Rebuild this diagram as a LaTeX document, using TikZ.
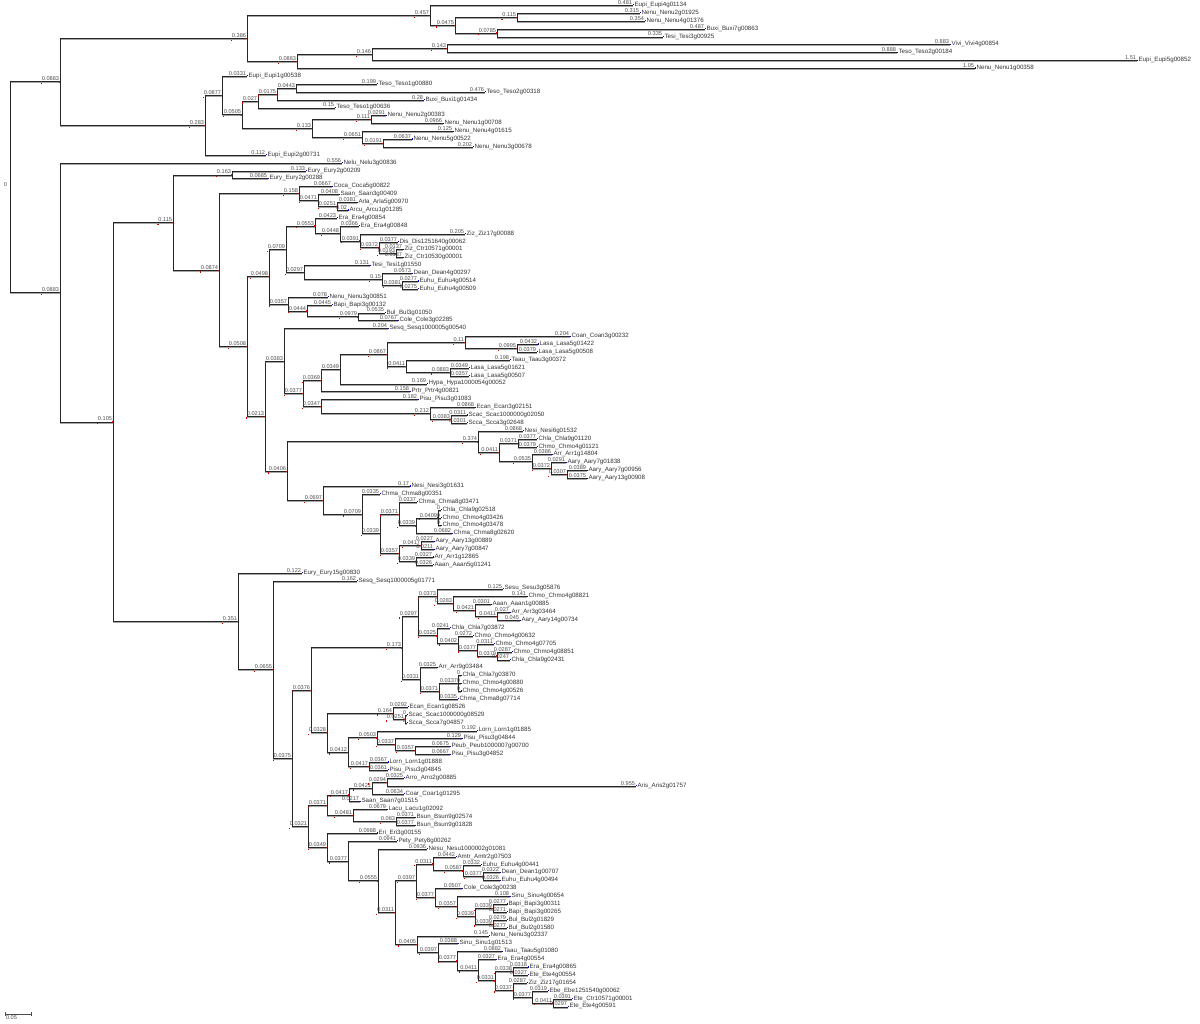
\documentclass[tikz,border=0pt]{standalone}
\usepackage{fontspec}
\setmainfont{Liberation Sans}
\usetikzlibrary{positioning}

\tikzset{
  branch/.style={draw=black!85, line width=0.5pt,
    preaction={draw=black!35, line width=0.5pt, transform canvas={yshift=-0.5pt}}},
  blen/.style={anchor=south east, inner sep=0.3pt, text=black!70, font=\fontsize{2.8}{3}\selectfont},
  genename/.style={anchor=west, inner sep=0.6pt, yshift=0.3pt, text=black!80, font=\fontsize{3.1}{3.5}\selectfont},
  nodemark/.style={fill=red!85!black},
  tipmark/.style={fill=blue!80!black},
}
% inner node: name, parent, x, y (leaf rows), branch length
\newcommand{\clade}[5]{%
  \coordinate (#1) at (#3,#4);
  \draw[branch] (#2) |- (#1);
  \node[blen] (#1l) at (#1) {#5};
  \fill[nodemark] ([yshift=-0.6pt]#1l.south west) rectangle ++(0.6pt,-0.6pt);
  \fill[nodemark] (#1) ++(-0.3pt,-0.3pt) rectangle ++(0.6pt,0.6pt);
}
% leaf: name, parent, x, row, gene, branch length
\newcommand{\gene}[6]{%
  \coordinate (#1) at (#3,#4);
  \draw[branch] (#2) |- (#1);
  \node[blen] (#1l) at (#1) {#6};
  \node[genename] (#1n) at (#1) {#5};
  \fill[tipmark] ([xshift=-0.2pt]#1) rectangle ++(0.9pt,0.55pt);
}

\begin{document}
\begin{tikzpicture}[x=0.5pt,y=-3.943pt]
\useasboundingbox (0,0.3026) rectangle (1200,130.15);
\coordinate (R) at (10,24.06);
\node[blen] (Rl) at ([xshift=-1pt]R) {0};

% upper clade
\clade{T}{R}{60}{10.70}{0.0883}
\clade{T1}{T}{247}{5.1875}{0.386}
\clade{T1a}{T1}{430}{2.25}{0.457}
\gene{g1}{T1a}{633}{1}{Eupi\_Eupi4g01134}{0.481}
\clade{T1b}{T1a}{455}{3.5}{0.0475}
\clade{T1c}{T1b}{517}{2.5}{0.115}
\gene{g2}{T1c}{640}{2}{Nenu\_Nenu2g01925}{0.315}
\gene{g3}{T1c}{645}{3}{Nenu\_Nenu4g01376}{0.354}
\clade{T1d}{T1b}{497}{4.5}{0.0785}
\gene{g4}{T1d}{705}{4}{Buxi\_Buxi7g00863}{0.487}
\gene{g5}{T1d}{663}{5}{Tesi\_Tesi3g00925}{0.335}
\clade{A}{T1}{297}{8.125}{0.0883}
\clade{B}{A}{372}{7.25}{0.146}
\clade{C}{B}{447}{6.5}{0.143}
\gene{g6}{C}{950}{6}{Vivi\_Vivi4g00854}{0.883}
\gene{g7}{C}{897}{7}{Teso\_Teso2g00184}{0.888}
\gene{g8}{B}{1137}{8}{Eupi\_Eupi5g00852}{1.51}
\gene{g9}{A}{975}{9}{Nenu\_Nenu1g00358}{1.05}
\clade{T2}{T}{205}{16.22}{0.283}
\clade{T2a}{T2}{222}{12.4375}{0.0877}
\gene{g10}{T2a}{247}{10}{Eupi\_Eupi1g00538}{0.0331}
\clade{T2b}{T2a}{242}{14.875}{0.0505}
\clade{T2c}{T2b}{258}{13.125}{0.027}
\clade{T2e}{T2c}{277}{12.25}{0.0175}
\clade{T2f}{T2e}{296}{11.5}{0.0443}
\gene{g11}{T2f}{377}{11}{Teso\_Teso1g00880}{0.199}
\gene{g12}{T2f}{485}{12}{Teso\_Teso2g00318}{0.476}
\gene{g13}{T2e}{424}{13}{Buxi\_Buxi1g01434}{0.28}
\gene{g14}{T2c}{335}{14}{Teso\_Teso1g00636}{0.15}
\clade{T2d}{T2b}{312}{16.625}{0.133}
\clade{T2g}{T2d}{371}{15.5}{0.111}
\gene{g15}{T2g}{386}{15}{Nenu\_Nenu2g00383}{0.0291}
\gene{g16}{T2g}{443}{16}{Nenu\_Nenu1g00708}{0.0966}
\clade{T2h}{T2d}{362}{17.75}{0.0651}
\gene{g17}{T2h}{453}{17}{Nenu\_Nenu4g01615}{0.125}
\clade{T2i}{T2h}{383}{18.5}{0.0191}
\gene{g18}{T2i}{412}{18}{Nenu\_Nenu5g00522}{0.0637}
\gene{g19}{T2i}{473}{19}{Nenu\_Nenu3g00678}{0.202}
\gene{g20}{T2}{266}{20}{Eupi\_Eupi2g00731}{0.112}

% lower clade
\clade{L60}{R}{60}{37.41}{0.0883}
\gene{g21}{L60}{342}{21}{Nelu\_Nelu3g00836}{0.556}
\clade{L113}{L60}{113}{53.82}{0.105}
\clade{L173}{L113}{173}{28.53}{0.115}
\clade{L232}{L173}{232}{22.5}{0.163}
\gene{g22}{L232}{306}{22}{Eury\_Eury2g00209}{0.133}
\gene{g23}{L232}{268}{23}{Eury\_Eury2g00288}{0.0685}
\clade{L219}{L173}{219}{34.56}{0.0874}
\clade{L299}{L219}{299}{24.875}{0.158}
\gene{g24}{L299}{332}{24}{Coca\_Coca5g00822}{0.0667}
\clade{L318}{L299}{318}{25.75}{0.0471}
\gene{g25}{L318}{339}{25}{Saan\_Saan3g00409}{0.0408}
\clade{L337}{L318}{337}{26.5}{0.0251}
\gene{g26}{L337}{357}{26}{Arla\_Arla5g00970}{0.0381}
\gene{g27}{L337}{348}{27}{Arcu\_Arcu1g01285}{0.02}
\clade{D}{L219}{247}{44.24}{0.0508}
\clade{L269}{D}{269}{35.40}{0.0498}
\clade{L286}{L269}{286}{31.92}{0.0709}
\clade{L315}{L286}{315}{28.97}{0.0553}
\gene{g28}{L315}{337}{28}{Era\_Era4g00854}{0.0423}
\clade{L340}{L315}{340}{29.94}{0.0448}
\gene{g29}{L340}{359}{29}{Era\_Era4g00848}{0.0366}
\clade{L360}{L340}{360}{30.875}{0.0391}
\gene{g30}{L360}{465}{30}{Ziz\_Ziz17g00088}{0.205}
\clade{L379}{L360}{379}{31.75}{0.0372}
\gene{g31}{L379}{398}{31}{Dis\_Dis1251640g00062}{0.0377}
\clade{L396}{L379}{396}{32.5}{0.0193}
\gene{g32}{L396}{403}{32}{Ziz\_Ctr10571g00001}{0.0137}
\gene{g33}{L396}{403}{33}{Ziz\_Ctr10530g00001}{0.0137}
\clade{L304}{L286}{304}{34.875}{0.0297}
\gene{g34}{L304}{370}{34}{Tesi\_Tesi1g01550}{0.131}
\clade{L382}{L304}{382}{35.75}{0.15}
\gene{g35}{L382}{412}{35}{Dean\_Dean4g00297}{0.0573}
\clade{L402}{L382}{402}{36.5}{0.0381}
\gene{g36}{L402}{418}{36}{Euhu\_Euhu4g00514}{0.0277}
\gene{g37}{L402}{418}{37}{Euhu\_Euhu4g00509}{0.0275}
\clade{L288}{L269}{288}{38.875}{0.0357}
\gene{g38}{L288}{328}{38}{Nenu\_Nenu3g00851}{0.078}
\clade{L307}{L288}{307}{39.75}{0.0444}
\gene{g39}{L307}{332}{39}{Bapi\_Bapi3g00132}{0.0445}
\clade{L358}{L307}{358}{40.5}{0.0979}
\gene{g40}{L358}{385}{40}{Bul\_Bul3g01050}{0.0535}
\gene{g41}{L358}{398}{41}{Cole\_Cole3g02285}{0.0767}
\clade{L265}{D}{265}{53.08}{0.0213}
\clade{L284}{L265}{284}{46.11}{0.0383}
\gene{g42}{L284}{388}{42}{Sesq\_Sesq1000005g00540}{0.204}
\clade{L303}{L284}{303}{50.22}{0.0377}
\clade{L321a}{L303}{321}{48.56}{0.0369}
\clade{L340b}{L321a}{340}{47.125}{0.0349}
\clade{L387}{L340b}{387}{45.25}{0.0867}
\clade{L465}{L387}{465}{43.75}{0.11}
\gene{g43}{L465}{570}{43}{Coan\_Coan3g00232}{0.204}
\clade{L517}{L465}{517}{44.5}{0.0995}
\gene{g44}{L517}{538}{44}{Lasa\_Lasa5g01422}{0.0432}
\gene{g45}{L517}{537}{45}{Lasa\_Lasa5g00508}{0.0379}
\clade{L406}{L387}{406}{46.75}{0.0411}
\gene{g46}{L406}{510}{46}{Taau\_Taau3g00372}{0.198}
\clade{L450}{L406}{450}{47.5}{0.0883}
\gene{g47}{L450}{469}{47}{Lasa\_Lasa5g01621}{0.0349}
\gene{g48}{L450}{469}{48}{Lasa\_Lasa5g00507}{0.0357}
\gene{g49}{L340b}{427}{49}{Hypa\_Hypa1000054g00052}{0.169}
\gene{g50}{L321a}{410}{50}{Prtr\_Prtr4g00821}{0.158}
\clade{L321b}{L303}{321}{51.875}{0.0347}
\gene{g51}{L321b}{418}{51}{Pisu\_Pisu3g01083}{0.182}
\clade{L430}{L321b}{430}{52.75}{0.212}
\gene{g52}{L430}{475}{52}{Ecan\_Ecan3g02151}{0.0868}
\clade{L451}{L430}{451}{53.5}{0.0383}
\gene{g53}{L451}{467}{53}{Scac\_Scac1000000g02050}{0.0311}
\gene{g54}{L451}{467}{54}{Scca\_Scca3g02648}{0.0301}
\clade{L287}{L265}{287}{60.05}{0.0406}
\clade{L478}{L287}{478}{56.34}{0.374}
\gene{g55}{L478}{523}{55}{Nesi\_Nesi6g01532}{0.0868}
\clade{L499}{L478}{499}{57.69}{0.0411}
\clade{L518}{L499}{518}{56.5}{0.0371}
\gene{g56}{L518}{537}{56}{Chla\_Chla9g01120}{0.0377}
\gene{g57}{L518}{537}{57}{Chmo\_Chmo4g01121}{0.0379}
\clade{L532}{L499}{532}{58.875}{0.0535}
\gene{g58}{L532}{552}{58}{Arr\_Arr1g14804}{0.0386}
\clade{L551}{L532}{551}{59.75}{0.0372}
\gene{g59}{L551}{566}{59}{Aary\_Aary7g01838}{0.0291}
\clade{L567}{L551}{567}{60.5}{0.0307}
\gene{g60}{L567}{587}{60}{Aary\_Aary7g00956}{0.0389}
\gene{g61}{L567}{587}{61}{Aary\_Aary13g00908}{0.0375}
\clade{L323}{L287}{323}{63.75}{0.0697}
\gene{g62}{L323}{410}{62}{Nesi\_Nesi3g01631}{0.17}
\clade{L362}{L323}{362}{65.5}{0.0709}
\gene{g63}{L362}{380}{63}{Chma\_Chma8g00351}{0.0335}
\clade{L380}{L362}{380}{68}{0.0339}
\clade{L399}{L380}{399}{65.5}{0.0371}
\gene{g64}{L399}{417}{64}{Chma\_Chma8g03471}{0.0337}
\clade{L416}{L399}{416}{67}{0.0339}
\clade{L438}{L416}{438}{66}{0.0409}
\gene{g65}{L438}{441}{65}{Chla\_Chla9g02518}{0}
\gene{g66}{L438}{441}{66}{Chmo\_Chmo4g03426}{0}
\gene{g67}{L438}{441}{67}{Chmo\_Chmo4g03478}{0}
\gene{g68}{L416}{452}{68}{Chma\_Chma8g02620}{0.0682}
\clade{L399b}{L380}{399}{70.5}{0.0357}
\clade{L421}{L399b}{421}{69.5}{0.0417}
\gene{g69}{L421}{434}{69}{Aary\_Aary13g00889}{0.0227}
\gene{g70}{L421}{434}{70}{Aary\_Aary7g00847}{0.0211}
\clade{L416b}{L399b}{416}{71.5}{0.0339}
\gene{g71}{L416b}{433}{71}{Arr\_Arr1g12865}{0.0327}
\gene{g72}{L416b}{433}{72}{Aaan\_Aaan5g01241}{0.0326}

\clade{M238}{L113}{238}{79.12}{0.351}
\gene{g73}{M238}{302}{73}{Eury\_Eury15g00830}{0.122}
\clade{M273}{M238}{273}{85.24}{0.0655}
\gene{g74}{M273}{357}{74}{Sesq\_Sesq1000005g01771}{0.162}
\clade{M292}{M273}{292}{96.47}{0.0375}
\clade{M311}{M292}{311}{87.84}{0.0376}
\clade{M402}{M311}{402}{82.47}{0.173}
\clade{M418}{M402}{418}{78.44}{0.0297}
\clade{M437}{M418}{437}{75.94}{0.0373}
\gene{g75}{M437}{503}{75}{Sesu\_Sesu3g05876}{0.125}
\clade{M453}{M437}{453}{76.875}{0.0283}
\gene{g76}{M453}{527}{76}{Chmo\_Chmo4g08821}{0.141}
\clade{M475}{M453}{475}{77.75}{0.0421}
\gene{g77}{M475}{491}{77}{Aaan\_Aaan1g00885}{0.0301}
\clade{M497}{M475}{497}{78.5}{0.0411}
\gene{g78}{M497}{510}{78}{Arr\_Arr3g03464}{0.027}
\gene{g79}{M497}{520}{79}{Aary\_Aary14g00734}{0.045}
\clade{M437b}{M418}{437}{80.94}{0.0325}
\gene{g80}{M437b}{450}{80}{Chla\_Chla7g03872}{0.0241}
\clade{M458}{M437b}{458}{81.875}{0.0402}
\gene{g81}{M458}{473}{81}{Chmo\_Chmo4g00632}{0.0272}
\clade{M477}{M458}{477}{82.75}{0.0377}
\gene{g82}{M477}{494}{82}{Chmo\_Chmo4g07705}{0.0311}
\clade{M497b}{M477}{497}{83.5}{0.0379}
\gene{g83}{M497b}{512}{83}{Chmo\_Chmo4g08851}{0.0287}
\gene{g84}{M497b}{510}{84}{Chla\_Chla9g02431}{0.0247}
\clade{M420}{M402}{420}{86.5}{0.0331}
\gene{g85}{M420}{437}{85}{Arr\_Arr9g03484}{0.0325}
\clade{M439}{M420}{439}{88}{0.0371}
\clade{M458b}{M439}{458}{87}{0.0337}
\gene{g86}{M458b}{461}{86}{Chla\_Chla7g03870}{0}
\gene{g87}{M458b}{461}{87}{Chmo\_Chmo4g00880}{0}
\gene{g88}{M458b}{461}{88}{Chmo\_Chmo4g00526}{0}
\gene{g89}{M439}{458}{89}{Chma\_Chma8g07714}{0.0335}
\clade{M327}{M311}{327}{93.22}{0.0328}
\clade{M393}{M327}{393}{90.75}{0.164}
\gene{g90}{M393}{408}{90}{Ecan\_Ecan1g08526}{0.0292}
\clade{M405}{M393}{405}{91.5}{0.0251}
\gene{g91}{M405}{407}{91}{Scac\_Scac1000000g08529}{0}
\gene{g92}{M405}{407}{92}{Scca\_Scca7g04857}{0}
\clade{M348}{M327}{348}{95.69}{0.0412}
\clade{M377}{M348}{377}{93.875}{0.0503}
\gene{g93}{M377}{477}{93}{Lorn\_Lorn1g01885}{0.192}
\clade{M395}{M377}{395}{94.75}{0.0337}
\gene{g94}{M395}{462}{94}{Pisu\_Pisu3g04844}{0.129}
\clade{M415}{M395}{415}{95.5}{0.0357}
\gene{g95}{M415}{450}{95}{Peub\_Peub1000007g00700}{0.0675}
\gene{g96}{M415}{450}{96}{Pisu\_Pisu3g04852}{0.0667}
\clade{M369}{M348}{369}{97.5}{0.0417}
\gene{g97}{M369}{388}{97}{Lorn\_Lorn1g01888}{0.0367}
\gene{g98}{M369}{388}{98}{Pisu\_Pisu3g04845}{0.0361}
\clade{M308}{M292}{308}{105.1}{0.0321}
\clade{M327b}{M308}{327}{102.44}{0.0371}
\clade{M349}{M327b}{349}{101.125}{0.0417}
\clade{M372}{M349}{372}{100.25}{0.0421}
\clade{M387}{M372}{387}{99.5}{0.0294}
\gene{g99}{M387}{404}{99}{Arro\_Arro2g00885}{0.0325}
\gene{g100}{M387}{636}{100}{Aris\_Aris2g01757}{0.955}
\gene{g101}{M372}{404}{101}{Coar\_Coar1g01295}{0.0634}
\gene{g102}{M349}{360}{102}{Saan\_Saan7g01515}{0.0217}
\clade{M353}{M327b}{353}{103.75}{0.0481}
\gene{g103}{M353}{387}{103}{Lacu\_Lacu1g02092}{0.0679}
\clade{M396}{M353}{396}{104.5}{0.083}
\gene{g104}{M396}{415}{104}{Bsun\_Bsun9g02574}{0.0371}
\gene{g105}{M396}{415}{105}{Bsun\_Bsun9g01828}{0.0377}
\clade{M327c}{M308}{327}{107.75}{0.0349}
\gene{g106}{M327c}{377}{106}{Eri\_Eri3g00155}{0.0988}
\clade{M348c}{M327c}{348}{109.5}{0.0377}
\gene{g107}{M348c}{397}{107}{Pety\_Pety8g00262}{0.0941}
\clade{M378}{M348c}{378}{112.01}{0.0555}
\gene{g108}{M378}{427}{108}{Nesu\_Nesu1000002g01081}{0.0936}
\clade{M395b}{M378}{395}{116.02}{0.0311}
\clade{M416}{M395b}{416}{112}{0.0397}
\clade{M433}{M416}{433}{109.875}{0.0311}
\gene{g109}{M433}{456}{109}{Amtr\_Amtr2g07503}{0.0442}
\clade{M463}{M433}{463}{110.75}{0.0587}
\gene{g110}{M463}{481}{110}{Euhu\_Euhu4g00441}{0.0332}
\clade{M483}{M463}{483}{111.5}{0.0377}
\gene{g111}{M483}{500}{111}{Dean\_Dean1g00707}{0.0322}
\gene{g112}{M483}{500}{112}{Euhu\_Euhu4g00494}{0.0326}
\clade{M435}{M416}{435}{114.125}{0.0377}
\gene{g113}{M435}{462}{113}{Cole\_Cole3g00238}{0.0507}
\clade{M457}{M435}{457}{115.25}{0.0357}
\gene{g114}{M457}{510}{114}{Sinu\_Sinu4g00654}{0.108}
\clade{M475b}{M457}{475}{116.5}{0.0339}
\clade{M493}{M475b}{493}{115.5}{0.0339}
\gene{g115}{M493}{507}{115}{Bapi\_Bapi3g00311}{0.0277}
\gene{g116}{M493}{507}{116}{Bapi\_Bapi3g00265}{0.0271}
\clade{M493b}{M475b}{493}{117.5}{0.0339}
\gene{g117}{M493b}{507}{117}{Bul\_Bul2g01829}{0.0279}
\gene{g118}{M493b}{507}{118}{Bul\_Bul2g01580}{0.0277}
\clade{M417}{M395b}{417}{120.04}{0.0405}
\gene{g119}{M417}{489}{119}{Nenu\_Nenu3g02337}{0.145}
\clade{M438}{M417}{438}{121.09}{0.0397}
\gene{g120}{M438}{458}{120}{Sinu\_Sinu1g01513}{0.0388}
\clade{M457b}{M438}{457}{122.17}{0.0377}
\gene{g121}{M457b}{502}{121}{Taau\_Taau5g01080}{0.0882}
\clade{M478}{M457b}{478}{123.34}{0.0411}
\gene{g122}{M478}{496}{122}{Era\_Era4g00554}{0.0327}
\clade{M495}{M478}{495}{124.69}{0.0331}
\clade{M513}{M495}{513}{123.5}{0.0338}
\gene{g123}{M513}{528}{123}{Era\_Era4g00865}{0.0318}
\gene{g124}{M513}{528}{124}{Ete\_Ete4g00554}{0.0327}
\clade{M513b}{M495}{513}{125.875}{0.0337}
\gene{g125}{M513b}{527}{125}{Ziz\_Ziz17g01654}{0.0287}
\clade{M532}{M513b}{532}{126.75}{0.0377}
\gene{g126}{M532}{548}{126}{Ebe\_Ebe1251540g00062}{0.0319}
\clade{M553}{M532}{553}{127.5}{0.0411}
\gene{g127}{M553}{572}{127}{Ete\_Ctr10571g00001}{0.0391}
\gene{g128}{M553}{568}{128}{Ete\_Ete4g00591}{0.0297}

% scale bar
\coordinate (sbl) at (5,128.88);
\coordinate (sbr) at (31,128.88);
\draw[black!70, line width=0.4pt] (sbl) -- (sbr);
\draw[black!70, line width=0.4pt] ([yshift=-0.8pt]sbl) -- ([yshift=0.8pt]sbl);
\draw[black!70, line width=0.4pt] ([yshift=-0.8pt]sbr) -- ([yshift=0.8pt]sbr);
\node[blen, below right=0.4pt and 0pt of sbl] (sblab) {0.05};
\end{tikzpicture}
\end{document}
